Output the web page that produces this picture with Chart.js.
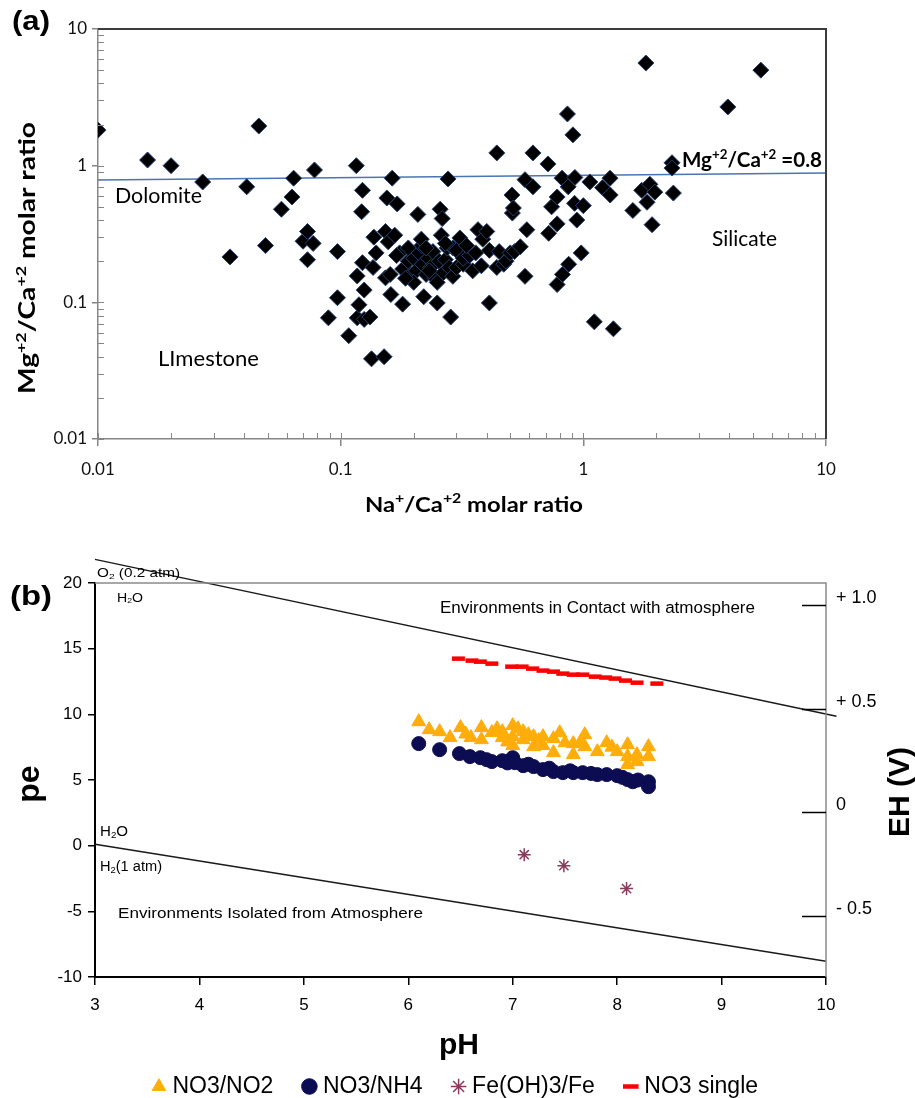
<!DOCTYPE html>
<html>
<head>
<meta charset="utf-8">
<script src="https://cdn.jsdelivr.net/npm/chart.js@4.4.1/dist/chart.umd.min.js"></script>
<style>
  html, body { margin: 0; padding: 0; background: #fff; overflow: hidden; width: 915px; height: 1098px; }
  #wrapA { position: absolute; left: 0; top: 0; }
  #wrapB { position: absolute; left: 0; top: 530px; }
</style>
</head>
<body>
<div id="wrapA"><canvas id="chartA" width="915" height="530"></canvas></div>
<div id="wrapB"><canvas id="chartB" width="915" height="578"></canvas></div>
<script>
// ---- (a) Mg/Ca vs Na/Ca ----
const logTicks = [0.01, 0.1, 1, 10];

const naRatio = [
  0.010, 0.016, 0.020, 0.027, 0.035, 0.041, 0.046, 0.049, 0.057, 0.063,
  0.064, 0.070, 0.073, 0.077, 0.073, 0.078, 0.089, 0.097, 0.097, 0.108,
  0.116, 0.117, 0.117, 0.119, 0.122, 0.123, 0.123, 0.125, 0.125, 0.132,
  0.134, 0.136, 0.137, 0.151, 0.153, 0.153, 0.155, 0.157, 0.161, 0.163,
  0.167, 0.171, 0.175, 0.180, 0.180, 0.190, 0.195, 0.200, 0.205, 0.208,
  0.210, 0.216, 0.217, 0.220, 0.225, 0.230, 0.235, 0.240, 0.245, 0.250,
  0.250, 0.255, 0.257, 0.260, 0.262, 0.265, 0.270, 0.275, 0.277, 0.280,
  0.284, 0.290, 0.290, 0.300, 0.300, 0.310, 0.320, 0.320, 0.340, 0.350,
  0.368, 0.380, 0.385, 0.400, 0.410, 0.410, 0.440, 0.440, 0.450, 0.470,
  0.480, 0.500, 0.508, 0.510, 0.515, 0.520, 0.550, 0.575, 0.575, 0.585,
  0.620, 0.620, 0.715, 0.720, 0.740, 0.780, 0.780, 0.780, 0.817, 0.820,
  0.860, 0.866, 0.870, 0.906, 0.920, 0.923, 0.940, 0.980, 1.000, 1.064,
  1.110, 1.200, 1.288, 1.290, 1.330, 1.600, 1.740, 1.810, 1.830, 1.880,
  1.920, 1.970, 2.320, 2.320, 2.350, 3.940, 5.390, 0.190, 0.200, 0.215,
  0.225, 0.232, 0.160, 0.170, 0.185, 0.270, 0.330, 0.360, 0.140
];
const mgRatio = [
  1.82, 1.10, 1.00, 0.76, 0.215, 0.70, 1.95, 0.26, 0.48, 0.59,
  0.81, 0.28, 0.33, 0.27, 0.205, 0.93, 0.077, 0.235, 0.108, 0.057,
  1.00, 0.156, 0.077, 0.096, 0.46, 0.66, 0.195, 0.123, 0.075, 0.078,
  0.0386, 0.18, 0.30, 0.040, 0.151, 0.33, 0.58, 0.277, 0.114, 0.81,
  0.31, 0.525, 0.23, 0.097, 0.175, 0.20, 0.16, 0.21, 0.17, 0.44,
  0.23, 0.26, 0.19, 0.11, 0.16, 0.21, 0.18, 0.235, 0.15, 0.14,
  0.099, 0.20, 0.48, 0.31, 0.41, 0.165, 0.205, 0.25, 0.80, 0.18,
  0.078, 0.155, 0.25, 0.24, 0.18, 0.296, 0.19, 0.21, 0.22, 0.17,
  0.34, 0.185, 0.29, 0.33, 0.24, 0.099, 0.18, 1.24, 0.235, 0.19,
  0.20, 0.23, 0.61, 0.45, 0.49, 0.235, 0.255, 0.79, 0.155, 0.34,
  1.24, 0.70, 1.03, 0.32, 0.50, 0.59, 0.375, 0.135, 0.81, 0.16,
  2.39, 0.70, 0.19, 1.68, 0.53, 0.82, 0.40, 0.23, 0.51, 0.76,
  0.072, 0.69, 0.81, 0.61, 0.064, 0.47, 0.66, 5.64, 0.54, 0.73,
  0.37, 0.64, 1.05, 0.96, 0.63, 2.69, 5.00, 0.25, 0.14, 0.29,
  0.25, 0.17, 0.16, 0.22, 0.15, 0.27, 0.26, 0.23, 0.23
];
// Mg/Ca = 0.8 reference line
const dolomiteNa = [0.01, 10];
const dolomiteMg = [0.785, 0.885];

// ---- (b) pe vs pH ----
const no2PH = [6.10, 6.20, 6.30, 6.40, 6.50, 6.60, 6.70, 6.70, 6.80, 6.90, 6.90, 7.00, 7.00, 7.00, 7.10, 7.10, 7.20, 7.20, 7.29, 7.29,
  7.39, 7.39, 7.50, 7.58, 7.58, 7.69, 7.69, 7.81, 7.90, 8.00, 8.10, 8.10, 8.10, 8.19, 8.19, 8.30, 8.30,
  6.55, 6.85, 7.05, 7.15, 7.45, 7.25, 6.95, 7.65, 7.95];
const no2PE = [9.44, 8.83, 8.68, 8.23, 8.99, 8.23, 8.99, 8.07, 8.61, 8.68, 8.23, 9.14, 8.30, 7.62, 8.68, 8.07, 8.30, 7.54, 8.30, 7.62,
  8.15, 7.08, 7.84, 7.77, 6.93, 8.45, 7.54, 7.16, 7.84, 7.16, 7.69, 6.78, 6.17, 6.93, 6.40, 7.54, 6.78,
  8.50, 8.90, 8.90, 8.45, 8.60, 8.00, 7.90, 7.90, 7.50];
const nh4PH = [6.10, 6.30, 6.49, 6.59, 6.69, 6.80, 6.90, 7.00, 7.02, 7.10, 7.20, 7.29, 7.39, 7.48, 7.58, 7.67, 7.81, 7.90, 8.00, 8.10, 8.15, 8.30, 8.30,
  6.75, 6.95, 7.15, 7.35, 7.55, 7.75, 8.05, 8.20];
const nh4PE = [7.77, 7.31, 7.01, 6.78, 6.70, 6.40, 6.47, 6.70, 6.32, 6.09, 6.02, 5.79, 5.64, 5.56, 5.56, 5.56, 5.41, 5.41, 5.33, 5.03, 4.87, 4.87, 4.49,
  6.55, 6.30, 6.20, 5.90, 5.70, 5.50, 5.20, 5.00];
const fePH = [7.11, 7.49, 8.09];
const fePE = [-0.69, -1.52, -3.27];
const no3PH = [6.48, 6.61, 6.69, 6.80, 6.99, 7.09, 7.19, 7.29, 7.39, 7.48, 7.58, 7.67, 7.79, 7.89, 7.98, 8.08, 8.19, 8.38];
const no3PE = [14.24, 14.09, 14.01, 13.86, 13.63, 13.63, 13.48, 13.33, 13.25, 13.10, 13.02, 13.02, 12.87, 12.80, 12.72, 12.57, 12.41, 12.34];
// water stability limits
const o2PH = [3, 10.1];
const o2PE = [21.8, 9.85];
const h2PH = [3, 10];
const h2PE = [0.1, -8.8];
// secondary EH (V) axis
const ehTicks = [-0.5, 0, 0.5, 1.0];
const ehLabels = ['- 0.5', '0', '+ 0.5', '+ 1.0'];

const fontA = "Lato, 'Open Sans', sans-serif";
const fontB = "'Liberation Sans', Arial, sans-serif";

const pts = (xs, ys) => xs.map((x, i) => ({ x: x, y: ys[i] }));

// text with super/subscripts, squeezed to a target width
function richText(ctx, parts, x, y, o) {
  const wt = o.bold ? 'bold ' : '';
  const big = wt + o.size + 'px ' + o.family;
  const small = wt + Math.round(o.size * 0.65) + 'px ' + o.family;
  let w = 0;
  parts.forEach(p => { ctx.font = p[1] ? small : big; w += ctx.measureText(p[0]).width; });
  const sx = o.width ? o.width / w : 1;
  ctx.save();
  ctx.translate(x, y);
  if (o.rotate) ctx.rotate(-Math.PI / 2);
  ctx.scale(sx, 1);
  let cx = o.center ? -w / 2 : 0;
  ctx.textBaseline = 'middle';
  ctx.textAlign = 'left';
  ctx.fillStyle = o.color || '#000';
  parts.forEach(p => {
    ctx.font = p[1] ? small : big;
    const dy = p[1] > 0 ? -o.size * 0.3 : (p[1] < 0 ? o.size * 0.25 : 0);
    ctx.fillText(p[0], cx, dy);
    cx += ctx.measureText(p[0]).width;
  });
  ctx.restore();
}

const decorA = {
  id: 'decorA',
  afterDatasetsDraw(chart) {
    const { ctx, chartArea: a, scales: { x, y } } = chart;
    ctx.save();
    // minor ticks pointing inside
    ctx.strokeStyle = '#868686';
    ctx.lineWidth = 1;
    ctx.beginPath();
    [0.01, 0.1, 1].forEach(d => {
      for (let k = 1; k <= 9; k++) {
        const v = d * k;
        const px = Math.round(x.getPixelForValue(v)) + 0.5;
        ctx.moveTo(px, a.bottom); ctx.lineTo(px, a.bottom - 6);
        const py = Math.round(y.getPixelForValue(v)) + 0.5;
        ctx.moveTo(a.left, py); ctx.lineTo(a.left + 6, py);
      }
    });
    ctx.stroke();
    // dark frame top / right
    ctx.strokeStyle = '#3c3c3c';
    ctx.lineWidth = 2;
    ctx.beginPath();
    ctx.moveTo(a.left, a.top); ctx.lineTo(a.right, a.top); ctx.lineTo(a.right, a.bottom);
    ctx.stroke();
    ctx.restore();

    richText(ctx, [['(a)', 0]], 12, 22, { size: 28, bold: true, family: fontB, width: 38 });
    richText(ctx, [['Dolomite', 0]], 115, 196, { size: 21, family: fontA, width: 87 });
    richText(ctx, [['LImestone', 0]], 158, 359, { size: 21, family: fontA, width: 101 });
    richText(ctx, [['Silicate', 0]], 712, 239, { size: 21, family: fontA, width: 65 });
    richText(ctx, [['Mg', 0], ['+2', 1], ['/Ca', 0], ['+2', 1], [' =0.8', 0]], 682, 161,
      { size: 20, bold: true, family: fontA, width: 140 });
    richText(ctx, [['Na', 0], ['+', 1], ['/Ca', 0], ['+2', 1], [' molar ratio', 0]], 474, 505,
      { size: 21, bold: true, family: fontA, width: 218, center: true });
    richText(ctx, [['Mg', 0], ['+2', 1], ['/Ca', 0], ['+2', 1], [' molar ratio', 0]], 28, 258,
      { size: 22, bold: true, family: fontA, width: 272, center: true, rotate: true });
  }
};

new Chart(document.getElementById('chartA'), {
  type: 'scatter',
  data: {
    datasets: [
      {
        label: 'samples',
        data: pts(naRatio, mgRatio),
        pointStyle: 'rectRot',
        pointRadius: 8,
        backgroundColor: '#000',
        borderColor: '#24426f',
        borderWidth: 1,
        order: 0
      },
      {
        type: 'line',
        label: 'Mg/Ca = 0.8',
        data: pts(dolomiteNa, dolomiteMg),
        showLine: true,
        borderColor: '#4a74b4',
        borderWidth: 1.5,
        pointRadius: 0,
        order: 1
      }
    ]
  },
  options: {
    responsive: false,
    animation: false,
    events: [],
    layout: { padding: { top: 29, right: 89, left: 0, bottom: 0 } },
    plugins: { legend: { display: false }, tooltip: { enabled: false } },
    scales: {
      x: {
        type: 'logarithmic', min: 0.01, max: 10,
        afterBuildTicks: s => { s.ticks = logTicks.map(v => ({ value: v })); },
        afterFit: s => { s.height = 91; },
        ticks: { callback: v => String(v), font: { family: fontA, size: 17 }, color: '#111', padding: 13, autoSkip: false, maxRotation: 0 },
        grid: { drawOnChartArea: false, tickLength: 7, color: '#868686', lineWidth: 1.5 },
        border: { color: '#868686', width: 1.5 }
      },
      y: {
        type: 'logarithmic', min: 0.01, max: 10,
        afterBuildTicks: s => { s.ticks = logTicks.map(v => ({ value: v })); },
        afterFit: s => { s.width = 98; },
        ticks: { callback: v => String(v), font: { family: fontA, size: 17 }, color: '#111', padding: 5, autoSkip: false },
        grid: { drawOnChartArea: false, tickLength: 6, color: '#868686', lineWidth: 1.5 },
        border: { color: '#868686', width: 1.5 }
      }
    }
  },
  plugins: [decorA]
});

const decorB = {
  id: 'decorB',
  afterDatasetsDraw(chart) {
    const { ctx, chartArea: a, scales } = chart;
    ctx.save();
    ctx.strokeStyle = '#8a8a8a';
    ctx.lineWidth = 1.5;
    ctx.beginPath();
    ctx.moveTo(a.left, a.top); ctx.lineTo(a.right, a.top); ctx.lineTo(a.right, a.bottom);
    ctx.stroke();
    // EH ticks, drawn inside
    ctx.strokeStyle = '#000';
    ctx.beginPath();
    ehTicks.forEach(v => {
      const py = Math.round(scales.yEH.getPixelForValue(v)) + 0.5;
      ctx.moveTo(a.right - 24, py); ctx.lineTo(a.right, py);
    });
    ctx.stroke();
    ctx.restore();

    richText(ctx, [['O', 0], ['2', -1], [' (0.2 atm)', 0]], 97, 44, { size: 12, family: fontB, width: 83 });
    richText(ctx, [['(b)', 0]], 10, 67, { size: 28, bold: true, family: fontB, width: 42 });
    richText(ctx, [['H', 0], ['2', -1], ['O', 0]], 117, 68, { size: 13, family: fontB, width: 26 });
    richText(ctx, [['Environments in Contact with atmosphere', 0]], 440, 79, { size: 16, family: fontB, width: 315 });
    richText(ctx, [['H', 0], ['2', -1], ['O', 0]], 100, 302, { size: 14, family: fontB, width: 28 });
    richText(ctx, [['H', 0], ['2', -1], ['(1 atm)', 0]], 100, 337, { size: 14, family: fontB, width: 62 });
    richText(ctx, [['Environments Isolated from Atmosphere', 0]], 118, 384, { size: 15, family: fontB, width: 305 });
    richText(ctx, [['pe', 0]], 30, 254, { size: 32, bold: true, family: fontB, center: true, rotate: true });
    richText(ctx, [['pH', 0]], 459, 516, { size: 30, bold: true, family: fontB, center: true });
    richText(ctx, [['EH (V)', 0]], 901, 262, { size: 30, bold: true, family: fontB, center: true, rotate: true });
  }
};

new Chart(document.getElementById('chartB'), {
  type: 'scatter',
  data: {
    datasets: [
      { label: 'NO3/NO2', data: pts(no2PH, no2PE), pointStyle: 'triangle', pointRadius: 8,
        backgroundColor: '#ffad0a', borderColor: '#ffad0a', borderWidth: 1 },
      { label: 'NO3/NH4', data: pts(nh4PH, nh4PE), pointStyle: 'circle', pointRadius: 7,
        backgroundColor: '#0c0c52', borderColor: '#0c0c52', borderWidth: 1 },
      { label: 'Fe(OH)3/Fe', data: pts(fePH, fePE), pointStyle: 'star', pointRadius: 6.5,
        backgroundColor: '#8b3a5c', borderColor: '#8b3a5c', borderWidth: 1.5 },
      { label: 'NO3 single', data: pts(no3PH, no3PE), pointStyle: 'line', pointRadius: 6.5,
        backgroundColor: '#ff0000', borderColor: '#ff0000', borderWidth: 4.5 },
      { type: 'line', label: 'O2', data: pts(o2PH, o2PE), showLine: true, borderColor: '#1a1a1a',
        borderWidth: 1.5, pointRadius: 0, clip: false },
      { type: 'line', label: 'H2', data: pts(h2PH, h2PE), showLine: true, borderColor: '#1a1a1a',
        borderWidth: 1.5, pointRadius: 0, clip: false }
    ]
  },
  options: {
    responsive: false,
    animation: false,
    events: [],
    layout: { padding: { top: 53, right: 0, left: 0, bottom: 0 } },
    plugins: {
      tooltip: { enabled: false },
      legend: {
        position: 'bottom',
        labels: {
          filter: it => it.datasetIndex < 4,
          usePointStyle: true,
          boxWidth: 4,
          boxHeight: 11,
          padding: 34,
          color: '#000',
          font: { family: fontB, size: 23 }
        }
      }
    },
    scales: {
      x: {
        type: 'linear', min: 3, max: 10,
        afterFit: s => { s.height = 64; },
        ticks: { stepSize: 1, font: { family: fontB, size: 17 }, color: '#000', padding: 10 },
        grid: { drawOnChartArea: false, tickLength: 8, color: '#000', lineWidth: 1.5 },
        border: { color: '#000', width: 2 }
      },
      y: {
        min: -10, max: 20,
        afterFit: s => { s.width = 95; },
        ticks: { stepSize: 5, font: { family: fontB, size: 17 }, color: '#000', padding: 6 },
        grid: { drawOnChartArea: false, tickLength: 7, color: '#000', lineWidth: 1.5 },
        border: { color: '#000', width: 2 }
      },
      yEH: {
        position: 'right', min: -0.795, max: 1.107,
        afterBuildTicks: s => { s.ticks = ehTicks.map(v => ({ value: v })); },
        afterFit: s => { s.width = 89; },
        ticks: { callback: (v, i) => ehLabels[i], font: { family: fontB, size: 18 }, color: '#000', padding: 10, labelOffset: -7 },
        grid: { display: false, drawTicks: false },
        border: { display: false }
      }
    }
  },
  plugins: [decorB]
});
</script>
</body>
</html>
